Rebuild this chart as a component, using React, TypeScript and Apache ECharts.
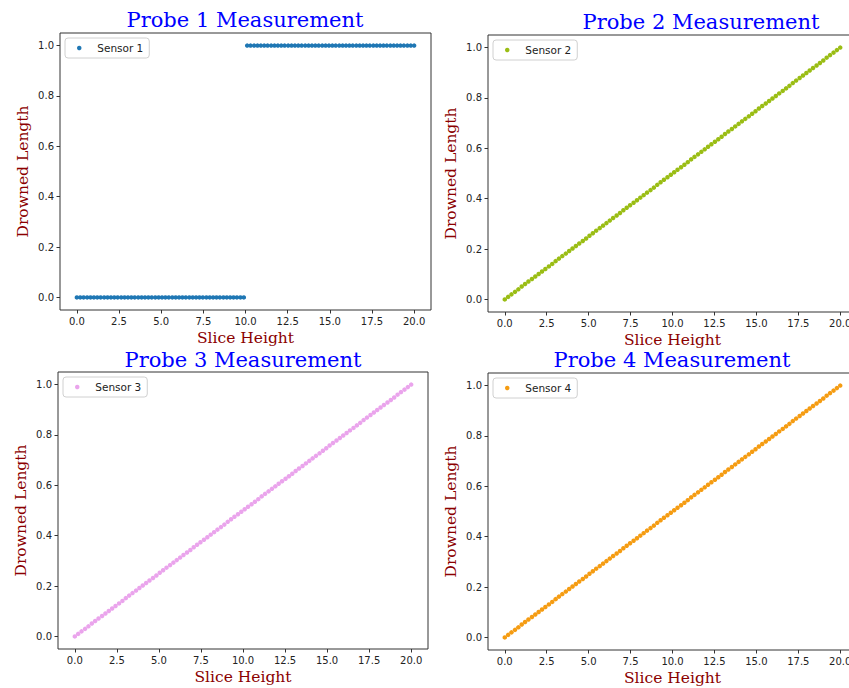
import React, { useEffect, useRef } from "react";
import * as echarts from "echarts";

const sliceHeights = [
  0.0, 0.2, 0.4, 0.61, 0.81, 1.01, 1.21, 1.41, 1.62, 1.82,
  2.02, 2.22, 2.42, 2.63, 2.83, 3.03, 3.23, 3.43, 3.64, 3.84,
  4.04, 4.24, 4.44, 4.65, 4.85, 5.05, 5.25, 5.45, 5.66, 5.86,
  6.06, 6.26, 6.46, 6.67, 6.87, 7.07, 7.27, 7.47, 7.68, 7.88,
  8.08, 8.28, 8.48, 8.69, 8.89, 9.09, 9.29, 9.49, 9.7, 9.9,
  10.1, 10.3, 10.51, 10.71, 10.91, 11.11, 11.31, 11.52, 11.72, 11.92,
  12.12, 12.32, 12.53, 12.73, 12.93, 13.13, 13.33, 13.54, 13.74, 13.94,
  14.14, 14.34, 14.55, 14.75, 14.95, 15.15, 15.35, 15.56, 15.76, 15.96,
  16.16, 16.36, 16.57, 16.77, 16.97, 17.17, 17.37, 17.58, 17.78, 17.98,
  18.18, 18.38, 18.59, 18.79, 18.99, 19.19, 19.39, 19.6, 19.8, 20.0,
];

const sensor1 = [
  0, 0, 0, 0, 0, 0, 0, 0, 0, 0,
  0, 0, 0, 0, 0, 0, 0, 0, 0, 0,
  0, 0, 0, 0, 0, 0, 0, 0, 0, 0,
  0, 0, 0, 0, 0, 0, 0, 0, 0, 0,
  0, 0, 0, 0, 0, 0, 0, 0, 0, 0,
  1, 1, 1, 1, 1, 1, 1, 1, 1, 1,
  1, 1, 1, 1, 1, 1, 1, 1, 1, 1,
  1, 1, 1, 1, 1, 1, 1, 1, 1, 1,
  1, 1, 1, 1, 1, 1, 1, 1, 1, 1,
  1, 1, 1, 1, 1, 1, 1, 1, 1, 1,
];

const sensor2 = [
  0.0, 0.01, 0.02, 0.03, 0.04, 0.051, 0.061, 0.071, 0.081, 0.091,
  0.101, 0.111, 0.121, 0.131, 0.141, 0.152, 0.162, 0.172, 0.182, 0.192,
  0.202, 0.212, 0.222, 0.232, 0.242, 0.253, 0.263, 0.273, 0.283, 0.293,
  0.303, 0.313, 0.323, 0.333, 0.343, 0.354, 0.364, 0.374, 0.384, 0.394,
  0.404, 0.414, 0.424, 0.434, 0.444, 0.455, 0.465, 0.475, 0.485, 0.495,
  0.505, 0.515, 0.525, 0.535, 0.545, 0.556, 0.566, 0.576, 0.586, 0.596,
  0.606, 0.616, 0.626, 0.636, 0.646, 0.657, 0.667, 0.677, 0.687, 0.697,
  0.707, 0.717, 0.727, 0.737, 0.747, 0.758, 0.768, 0.778, 0.788, 0.798,
  0.808, 0.818, 0.828, 0.838, 0.848, 0.859, 0.869, 0.879, 0.889, 0.899,
  0.909, 0.919, 0.929, 0.939, 0.949, 0.96, 0.97, 0.98, 0.99, 1.0,
];

const sensor3 = [
  0.0, 0.01, 0.02, 0.03, 0.04, 0.051, 0.061, 0.071, 0.081, 0.091,
  0.101, 0.111, 0.121, 0.131, 0.141, 0.152, 0.162, 0.172, 0.182, 0.192,
  0.202, 0.212, 0.222, 0.232, 0.242, 0.253, 0.263, 0.273, 0.283, 0.293,
  0.303, 0.313, 0.323, 0.333, 0.343, 0.354, 0.364, 0.374, 0.384, 0.394,
  0.404, 0.414, 0.424, 0.434, 0.444, 0.455, 0.465, 0.475, 0.485, 0.495,
  0.505, 0.515, 0.525, 0.535, 0.545, 0.556, 0.566, 0.576, 0.586, 0.596,
  0.606, 0.616, 0.626, 0.636, 0.646, 0.657, 0.667, 0.677, 0.687, 0.697,
  0.707, 0.717, 0.727, 0.737, 0.747, 0.758, 0.768, 0.778, 0.788, 0.798,
  0.808, 0.818, 0.828, 0.838, 0.848, 0.859, 0.869, 0.879, 0.889, 0.899,
  0.909, 0.919, 0.929, 0.939, 0.949, 0.96, 0.97, 0.98, 0.99, 1.0,
];

const sensor4 = [
  0.0, 0.01, 0.02, 0.03, 0.04, 0.051, 0.061, 0.071, 0.081, 0.091,
  0.101, 0.111, 0.121, 0.131, 0.141, 0.152, 0.162, 0.172, 0.182, 0.192,
  0.202, 0.212, 0.222, 0.232, 0.242, 0.253, 0.263, 0.273, 0.283, 0.293,
  0.303, 0.313, 0.323, 0.333, 0.343, 0.354, 0.364, 0.374, 0.384, 0.394,
  0.404, 0.414, 0.424, 0.434, 0.444, 0.455, 0.465, 0.475, 0.485, 0.495,
  0.505, 0.515, 0.525, 0.535, 0.545, 0.556, 0.566, 0.576, 0.586, 0.596,
  0.606, 0.616, 0.626, 0.636, 0.646, 0.657, 0.667, 0.677, 0.687, 0.697,
  0.707, 0.717, 0.727, 0.737, 0.747, 0.758, 0.768, 0.778, 0.788, 0.798,
  0.808, 0.818, 0.828, 0.838, 0.848, 0.859, 0.869, 0.879, 0.889, 0.899,
  0.909, 0.919, 0.929, 0.939, 0.949, 0.96, 0.97, 0.98, 0.99, 1.0,
];

const xTicks = [0, 2.5, 5, 7.5, 10, 12.5, 15, 17.5, 20];
const yTicks = [0, 0.2, 0.4, 0.6, 0.8, 1.0];

const titles = ["Probe 1 Measurement", "Probe 2 Measurement", "Probe 3 Measurement", "Probe 4 Measurement"];
const sensorNames = ["Sensor 1", "Sensor 2", "Sensor 3", "Sensor 4"];
const sensorValues = [sensor1, sensor2, sensor3, sensor4];
const sensorColors = ["#1f77b4", "#9abd14", "#eaa4ec", "#f59c12"];

// layout (pixels); the canvas is wider than the window so the right plots are cut like the reference
const grids = [
  { left: 60, top: 33, width: 371, height: 277 },
  { left: 488, top: 35, width: 369, height: 277 },
  { left: 58, top: 372, width: 370, height: 277 },
  { left: 488, top: 373, width: 369, height: 277 },
];
const titlePos = [
  { x: 245, y: 20 },
  { x: 701, y: 22 },
  { x: 243, y: 360 },
  { x: 672, y: 360 },
];

export default function App() {
  const ref = useRef<HTMLDivElement>(null);
  useEffect(() => {
    if (!ref.current) return;
    const chart = echarts.init(ref.current, undefined, { renderer: "svg" });
    const sans = "DejaVu Sans";
    const serif = "DejaVu Serif";
    const tickLabel = { fontFamily: sans, fontSize: 10, color: "#222" };

    const xAxis = grids.map((_, i) => ({
      type: "value",
      gridIndex: i,
      position: "bottom",
      min: -1,
      max: 21,
      name: "Slice Height",
      nameLocation: "middle",
      nameGap: 20,
      nameTextStyle: { fontFamily: serif, fontSize: 15.5, color: "#8b0000" },
      axisLine: { show: false, onZero: false },
      splitLine: { show: false },
      axisTick: { show: true, inside: false, length: 3.5, lineStyle: { color: "#333" }, customValues: xTicks },
      axisLabel: {
        ...tickLabel,
        margin: 6,
        customValues: xTicks,
        formatter: (v: number) => v.toFixed(1),
      },
    }));
    const yAxis = grids.map((_, i) => ({
      type: "value",
      gridIndex: i,
      position: "left",
      min: -0.05,
      max: 1.05,
      name: "Drowned Length",
      nameLocation: "middle",
      nameGap: 29,
      nameTextStyle: { fontFamily: serif, fontSize: 15.5, color: "#8b0000" },
      axisLine: { show: false, onZero: false },
      splitLine: { show: false },
      axisTick: { show: true, inside: false, length: 3.5, lineStyle: { color: "#333" }, customValues: yTicks },
      axisLabel: {
        ...tickLabel,
        margin: 6,
        customValues: yTicks,
        formatter: (v: number) => v.toFixed(1),
      },
    }));

    const series = sensorNames.map((name, i) => ({
      type: "scatter",
      name,
      xAxisIndex: i,
      yAxisIndex: i,
      symbol: "circle",
      symbolSize: 4.5,
      itemStyle: { color: sensorColors[i], opacity: 1 },
      data: sliceHeights.map((x, k) => [x, sensorValues[i][k]]),
    }));

    const legend = sensorNames.map((name, i) => ({
      data: [name],
      left: grids[i].left + 5,
      top: grids[i].top + 5,
      orient: "vertical",
      backgroundColor: "#fff",
      borderColor: "#d0d0d0",
      borderWidth: 1,
      borderRadius: 3,
      padding: [4.5, 6, 4.5, 12],
      icon: "circle",
      itemWidth: 20,
      itemHeight: 4.5,
      itemGap: 8,
      textStyle: { fontFamily: sans, fontSize: 10.5, color: "#222", padding: [0, 0, 0, 3] },
      selectedMode: false,
    }));

    const graphic = titles.map((t, i) => ({
      type: "text",
      x: titlePos[i].x,
      y: titlePos[i].y,
      style: {
        text: t,
        fill: "#0000ff",
        font: `21px ${serif}`,
        align: "center",
        verticalAlign: "middle",
      },
    }));

    chart.setOption({
      animation: false,
      backgroundColor: "#ffffff",
      grid: grids.map((g) => ({
        ...g,
        show: true,
        borderColor: "#333",
        borderWidth: 1,
        backgroundColor: "transparent",
        containLabel: false,
      })),
      xAxis,
      yAxis,
      legend,
      series,
      graphic,
    } as any);
    return () => chart.dispose();
  }, []);
  return (
    <div
      ref={ref}
      style={{ position: "fixed", left: 0, top: 0, width: 870, height: 688 }}
    />
  );
}
